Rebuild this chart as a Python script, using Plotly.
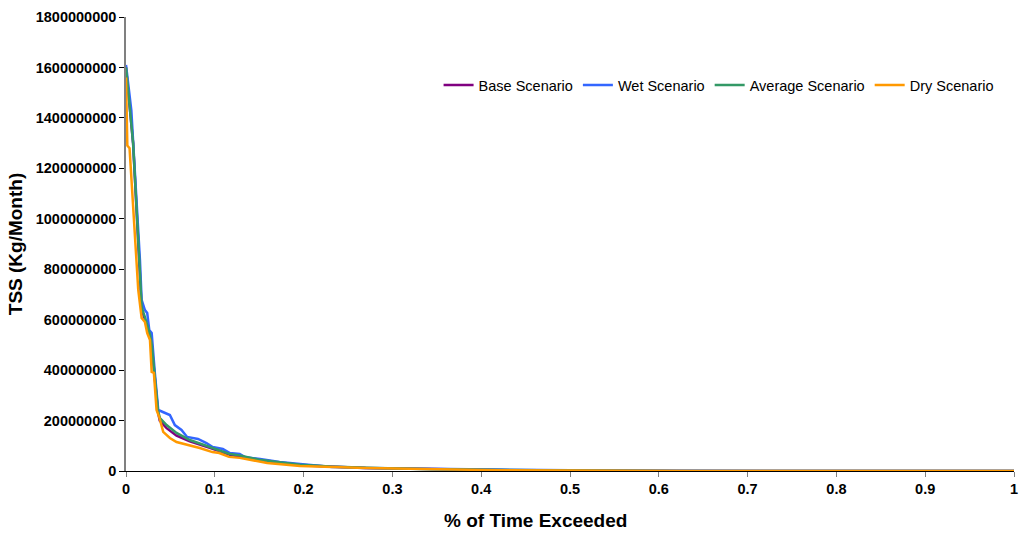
import plotly.graph_objects as go

# Exceedance fraction (x) and TSS (kg/month) values
base_x = [0.0, 0.008, 0.0155, 0.0176, 0.0213, 0.0239, 0.027, 0.029, 0.032, 0.036, 0.038, 0.0457, 0.0569, 0.0718,
          0.0943, 0.117, 0.15, 0.196, 0.27, 0.42, 0.62, 0.7, 1.0]
base_y = [1.60e9, 1.30e9, 7.9e8, 6.4e8, 6.0e8, 5.7e8, 5.3e8, 4.95e8, 3.85e8, 2.35e8, 2.0e8, 1.7e8, 1.4e8, 1.18e8,
          9.2e7, 6.4e7, 4.2e7, 2.3e7, 1.2e7, 3.5e6, 3e5, 0, 0]

wet_x = [0.0, 0.006, 0.0157, 0.0176, 0.0213, 0.0239, 0.0262, 0.0289, 0.0325, 0.0363, 0.0415, 0.0494, 0.055, 0.0625,
         0.0688, 0.0811, 0.0906, 0.0976, 0.109, 0.117, 0.128, 0.134, 0.151, 0.173, 0.196, 0.232, 0.27, 0.345, 0.42,
         0.5, 0.62, 0.7, 1.0]
wet_y = [1.61e9, 1.43e9, 8.36e8, 6.78e8, 6.38e8, 6.26e8, 5.59e8, 5.47e8, 3.88e8, 2.42e8, 2.34e8, 2.22e8, 1.82e8,
         1.63e8, 1.35e8, 1.27e8, 1.11e8, 9.5e7, 8.7e7, 7.1e7, 6.8e7, 5.5e7, 4.8e7, 3.6e7, 2.8e7, 1.6e7, 1.2e7, 8e6,
         4e6, 2.5e6, 5e5, 0, 0]

avg_x = [0.0, 0.008, 0.0155, 0.0176, 0.0213, 0.0239, 0.027, 0.029, 0.032, 0.036, 0.0382, 0.0457, 0.0569, 0.0718,
         0.0943, 0.117, 0.128, 0.15, 0.175, 0.196, 0.23, 0.27, 0.345, 0.42, 0.5, 0.62, 0.7, 1.0]
avg_y = [1.60e9, 1.30e9, 8.0e8, 6.5e8, 6.1e8, 5.8e8, 5.4e8, 5.0e8, 3.9e8, 2.4e8, 2.1e8, 1.82e8, 1.51e8, 1.23e8,
         9.5e7, 6.7e7, 6.2e7, 4.5e7, 3.4e7, 2.5e7, 1.8e7, 1.3e7, 7e6, 4e6, 2e6, 4e5, 0, 0]

dry_x = [0.0, 0.0015, 0.004, 0.0138, 0.0176, 0.0213, 0.0239, 0.027, 0.0289, 0.0314, 0.0344, 0.0374, 0.0419, 0.0494,
         0.0569, 0.0718, 0.083, 0.0973, 0.105, 0.116, 0.128, 0.159, 0.196, 0.27, 0.35, 0.42, 0.5, 0.64, 1.0]
dry_y = [1.56e9, 1.29e9, 1.28e9, 7.18e8, 6.07e8, 5.91e8, 5.47e8, 5.19e8, 3.93e8, 3.89e8, 2.42e8, 2.14e8, 1.55e8,
         1.31e8, 1.15e8, 1.03e8, 9.1e7, 7.5e7, 7.1e7, 5.6e7, 5.2e7, 3.2e7, 2.0e7, 1.2e7, 6e6, 3e6, 1.5e6, 0, 0]

series = [
    ("Base Scenario", base_x, base_y, "#800080"),
    ("Wet Scenario", wet_x, wet_y, "#3366FF"),
    ("Average Scenario", avg_x, avg_y, "#339966"),
    ("Dry Scenario", dry_x, dry_y, "#FF9900"),
]

y_ticks = [0, 200000000, 400000000, 600000000, 800000000, 1000000000, 1200000000, 1400000000, 1600000000, 1800000000]
x_ticks = [0, 0.1, 0.2, 0.3, 0.4, 0.5, 0.6, 0.7, 0.8, 0.9, 1]

fig = go.Figure()
for name, xs, ys, col in series:
    fig.add_trace(go.Scatter(x=xs, y=ys, mode="lines", name=name,
                             line=dict(color=col, width=2.5)))

FAM = "Liberation Sans, Arial, sans-serif"
tickfont = dict(family=FAM, size=14.5, color="black", weight="bold")
titlefont = dict(family=FAM, size=19, color="black", weight="bold")

fig.update_layout(
    width=1024, height=534,
    margin=dict(l=126, r=6, t=17, b=63),
    paper_bgcolor="white", plot_bgcolor="white",
    font=dict(family=FAM, color="black"),
    legend=dict(orientation="h", x=0.352, y=0.85, xanchor="left", yanchor="middle",
                font=dict(size=14.5, color="black"), bgcolor="rgba(0,0,0,0)",
                itemwidth=30, tracegroupgap=0),
    showlegend=True,
    annotations=[dict(text="% of Time Exceeded", xref="paper", yref="paper",
                      x=0.461, y=-0.11, xanchor="center", yanchor="middle",
                      showarrow=False, font=titlefont)],
)
fig.update_xaxes(
    range=[0, 1], tickvals=x_ticks, ticktext=[str(v) for v in x_ticks],
    showgrid=False, zeroline=False, showline=True, linecolor="black", linewidth=1,
    ticks="outside", ticklen=5, tickcolor="#808080", tickfont=tickfont,
)
fig.update_yaxes(
    range=[0, 1800000000], tickvals=y_ticks, ticktext=[str(v) for v in y_ticks],
    showgrid=False, zeroline=False, showline=True, linecolor="#808080", linewidth=1.5,
    ticks="outside", ticklen=5, tickcolor="black", tickfont=tickfont,
    title=dict(text="TSS (Kg/Month)", font=titlefont, standoff=8),
)

fig.write_html("out.html")
